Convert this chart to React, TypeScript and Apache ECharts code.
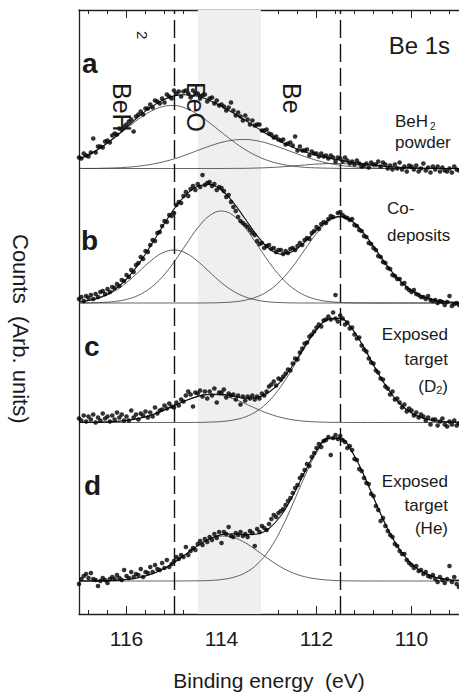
import React, { useEffect, useRef } from "react";
import * as echarts from "echarts";

// Binding-energy grid of the fitted curves (eV)
const fitEnergy = [117, 116.75, 116.5, 116.25, 116, 115.75, 115.5, 115.25, 115, 114.75, 114.5, 114.25, 114, 113.75, 113.5, 113.25, 113, 112.75, 112.5, 112.25, 112, 111.75, 111.5, 111.25, 111, 110.75, 110.5, 110.25, 110, 109.75, 109.5, 109.25, 109];

// Fit components (arb. units above each panel's baseline)
const aBeH2 = [9.3, 14.8, 21.9, 30.6, 40.0, 49.3, 56.9, 61.7, 63.0, 60.2, 54.1, 45.7, 36.2, 27.0, 18.9, 12.4, 7.6, 4.4, 2.4, 1.2, 0.6, 0.3, 0.1, 0, 0, 0, 0, 0, 0, 0, 0, 0, 0];
const aBeO = [0.1, 0.1, 0.3, 0.6, 1.2, 2.3, 4.0, 6.4, 9.6, 13.6, 18.1, 22.4, 26.1, 28.4, 29.0, 27.7, 24.7, 20.7, 16.3, 12.0, 8.2, 5.3, 3.2, 1.8, 1.0, 0.5, 0.2, 0.1, 0, 0, 0, 0, 0];
const aBe = [0, 0, 0, 0, 0, 0, 0, 0, 0, 0, 0, 0, 0, 0.1, 0.2, 0.5, 0.9, 1.6, 2.5, 3.5, 4.4, 4.9, 5.0, 4.5, 3.7, 2.7, 1.8, 1.1, 0.6, 0.3, 0.1, 0, 0];

const bBeH2 = [1.1, 2.8, 6.1, 11.8, 20.3, 30.9, 41.7, 49.9, 53.0, 49.9, 41.7, 30.9, 20.3, 11.8, 6.1, 2.8, 1.1, 0.4, 0.1, 0, 0, 0, 0, 0, 0, 0, 0, 0, 0, 0, 0, 0, 0];
const bBeO = [0.1, 0.2, 0.6, 1.5, 3.6, 7.7, 14.9, 25.9, 40.9, 58.3, 75.1, 87.5, 92.0, 87.5, 75.1, 58.3, 40.9, 25.9, 14.9, 7.7, 3.6, 1.5, 0.6, 0.2, 0.1, 0, 0, 0, 0, 0, 0, 0, 0];
const bBe = [0, 0, 0, 0, 0, 0, 0, 0, 0, 0, 0, 0.1, 0.4, 1.1, 2.8, 6.3, 12.5, 22.6, 36.5, 53.1, 69.4, 81.5, 86.0, 81.5, 69.4, 53.1, 36.5, 22.6, 12.5, 6.3, 2.8, 1.1, 0.4];

const cBeO = [0, 0.1, 0.4, 0.9, 2.0, 4.0, 7.1, 11.5, 16.7, 21.9, 26.0, 27.9, 27.1, 23.8, 18.8, 13.5, 8.7, 5.1, 2.7, 1.3, 0.6, 0.2, 0.1, 0, 0, 0, 0, 0, 0, 0, 0, 0, 0];
const cBe = [0, 0, 0, 0, 0, 0, 0, 0, 0, 0, 0.1, 0.4, 1.0, 2.5, 5.6, 11.6, 21.5, 36.0, 54.5, 74.6, 92.2, 103.1, 104.0, 93.6, 74.9, 53.3, 33.8, 19.0, 9.5, 4.2, 1.7, 0.6, 0.2];

const dBeO = [0, 0.1, 0.2, 0.6, 1.5, 3.3, 6.4, 11.4, 18.4, 26.8, 35.2, 41.8, 44.9, 43.6, 38.2, 30.3, 21.7, 14.0, 8.2, 4.3, 2.1, 0.9, 0.3, 0.1, 0, 0, 0, 0, 0, 0, 0, 0, 0];
const dBe = [0, 0, 0, 0, 0, 0, 0, 0, 0, 0.1, 0.2, 0.5, 1.5, 3.6, 8.2, 16.7, 30.8, 51.2, 76.9, 104.4, 128.1, 142.0, 142.3, 128.9, 105.5, 78.0, 52.1, 31.5, 17.2, 8.5, 3.8, 1.5, 0.6];

// Measured points: energy scan from 117 eV down in 0.05 eV steps
const dotStart = 117;
const dotStep = 0.05;
const aDots = [11, 10, 15, 13, 12, 16, 30, 16, 22, 22, 21, 27, 28, 26, 33, 35, 34, 40, 39, 42, 44, 47, 49, 37, 52, 54, 57, 54, 60, 60, 64, 61, 68, 67, 65, 70, 66, 74, 72, 70, 78, 75, 77, 72, 77, 78, 75, 71, 78, 75, 75, 70, 73, 74, 67, 70, 71, 65, 68, 63, 64, 62, 58, 61, 66, 58, 53, 56, 52, 48, 53, 49, 44, 48, 43, 44, 44, 38, 38, 39, 35, 34, 31, 32, 29, 28, 29, 24, 25, 26, 23, 32, 18, 22, 18, 18, 19, 13, 17, 15, 15, 12, 15, 12, 13, 10, 13, 11, 7, 11, 10, 7, 11, 8, 5, 7, 4, 8, 5, 2, 3, 5, 1, 6, 4, 4, 7, 2, 6, 4, 0, 3, -1, 4, 0, 6, -1, 2, -3, 3, 2, -1, 3, -3, 0, 5, -2, 1, -4, 2, -1, 2, -3, 1, -2, -3, 0, -4, 2, -1, -2];
const bDots = [4, 6, 2, 7, 5, 8, 4, 9, 6, 11, 12, 9, 14, 11, 16, 15, 19, 17, 23, 22, 28, 26, 33, 31, 38, 40, 46, 44, 52, 51, 58, 63, 62, 70, 71, 77, 82, 81, 88, 87, 90, 98, 101, 100, 107, 111, 107, 114, 117, 113, 119, 116, 128, 118, 120, 121, 117, 119, 113, 116, 115, 112, 106, 108, 101, 96, 92, 86, 82, 80, 78, 76, 73, 70, 68, 62, 59, 60, 55, 57, 58, 54, 55, 51, 53, 53, 49, 52, 50, 54, 55, 53, 57, 60, 58, 63, 65, 64, 70, 72, 76, 74, 79, 81, 80, 84, 87, 86, 8, 90, 91, 88, 86, 85, 83, 84, 78, 77, 73, 72, 67, 66, 60, 59, 55, 53, 47, 46, 41, 40, 35, 34, 28, 27, 24, 24, 19, 20, 15, 13, 11, 13, 9, 8, 6, 6, 4, 7, 3, 2, 3, 0, 2, 1, -2, 1, 7, -3, -1, 0, -2];
const cDots = [4, 2, 7, 1, 6, 3, 8, 0, 5, 2, 9, 4, 6, 1, 7, 3, 10, 5, 8, 2, 6, 2, 12, 5, 8, 3, 9, 7, 11, 5, 10, 6, 15, 9, 12, 13, 17, 14, 19, 16, 15, 20, 17, 23, 21, 27, 31, 28, 16, 30, 29, 32, 26, 31, 24, 31, 27, 34, 20, 30, 30, 33, 25, 29, 27, 28, 23, 27, 18, 26, 22, 26, 24, 27, 23, 26, 24, 29, 27, 31, 36, 38, 41, 37, 44, 43, 46, 49, 53, 52, 59, 64, 63, 70, 74, 79, 80, 86, 88, 91, 95, 98, 96, 102, 103, 106, 103, 110, 104, 101, 107, 104, 98, 100, 94, 95, 88, 84, 85, 77, 73, 71, 64, 60, 59, 52, 50, 44, 43, 36, 34, 28, 31, 23, 24, 20, 15, 18, 11, 14, 12, 7, 10, 5, 8, 6, 2, 5, -2, 3, 3, -3, 1, 4, -2, -4, 1, -2, 2, -3, -1];
const dDots = [-3, 2, 5, 7, 3, 8, 2, 1, -5, 0, 3, 1, -2, 2, 4, 2, 6, 3, 1, 11, 5, 3, 9, 4, 7, 6, 12, 4, 9, 8, 14, 9, 16, 12, 11, 18, 13, 21, 14, 17, 20, 24, 22, 26, 24, 34, 26, 30, 33, 31, 37, 40, 36, 42, 39, 44, 41, 47, 43, 49, 38, 49, 47, 54, 45, 44, 48, 46, 49, 45, 47, 44, 50, 48, 35, 52, 49, 55, 53, 51, 57, 62, 66, 64, 68, 70, 72, 76, 80, 83, 88, 93, 96, 103, 106, 111, 117, 115, 124, 128, 133, 137, 134, 140, 141, 144, 126, 143, 146, 142, 145, 141, 139, 133, 135, 131, 122, 121, 112, 110, 103, 98, 97, 87, 85, 75, 71, 60, 63, 55, 50, 46, 44, 37, 35, 30, 27, 27, 21, 18, 16, 13, 15, 10, 11, 7, 9, 5, 4, 6, 2, -1, 4, 1, -2, 2, 15, -1, 4, -3, -6];

// Vertical offsets of the stacked spectra (a top ... d bottom)
const panelOffsets = [445.5, 311, 191.5, 33];
const panelLetters = ["a", "b", "c", "d"];

// Axis ticks
const majorTicks = [110, 112, 114, 116];
const minorTicks = [109.2, 109.6, 110, 110.4, 110.8, 111.2, 111.6, 112, 112.4, 112.8, 113.2, 113.6, 114, 114.4, 114.8, 115.2, 115.6, 116, 116.4, 116.8];

// Reference energies and shaded region
const dashedLines = [115.0, 111.5];
const bandRange = [114.5, 113.17];

const FONT = "'Liberation Sans', Arial, Helvetica, sans-serif";
const INK = "#1a1a1a";

function panelSeries(dots: number[], comps: number[][], offset: number, first: boolean) {
  const out: any[] = [];
  comps.forEach((c) => {
    out.push({
      type: "line",
      data: fitEnergy.map((e, i) => [e, offset + c[i]]),
      smooth: 0.4,
      symbol: "none",
      silent: true,
      lineStyle: { width: 0.8, color: "#3a3a3a" },
      z: 2,
    });
  });
  const total = fitEnergy.map((e, i) => [e, offset + comps.reduce((s, c) => s + c[i], 0)]);
  const totalSeries: any = {
    type: "line",
    data: total,
    smooth: 0.4,
    symbol: "none",
    silent: true,
    lineStyle: { width: 1.1, color: "#111" },
    z: 3,
  };
  if (first) {
    totalSeries.markArea = {
      silent: true,
      itemStyle: { color: "#efefef" },
      data: [[{ xAxis: bandRange[0] }, { xAxis: bandRange[1] }]],
    };
    totalSeries.markLine = {
      silent: true,
      symbol: ["none", "none"],
      label: { show: false },
      lineStyle: { type: [18, 6], color: "#111", width: 1.4 },
      data: dashedLines.map((x) => ({ xAxis: x })),
    };
  }
  out.push(totalSeries);
  out.push({
    type: "scatter",
    data: dots.map((v, i) => [dotStart - dotStep * i, offset + v]),
    symbolSize: 4.6,
    silent: true,
    itemStyle: { color: "#000" },
    z: 4,
  });
  return out;
}

function txt(text: string, x: number, y: number, size: number, opts: any = {}) {
  const align = opts.align || "left";
  return {
    type: "text",
    x,
    y,
    rotation: opts.rot || 0,
    silent: true,
    z: 10,
    style: {
      text,
      fontSize: size,
      fontFamily: FONT,
      fontWeight: opts.bold ? "bold" : "normal",
      fill: INK,
      textAlign: align,
      align,
      textVerticalAlign: "middle",
      verticalAlign: "middle",
    },
  };
}

export default function App() {
  const ref = useRef<HTMLDivElement>(null);
  useEffect(() => {
    if (!ref.current) return;
    const chart = echarts.init(ref.current, null, { renderer: "svg" });
    const axisLineStyle = { color: "#222", width: 1.3 };
    const tickStyle = { color: "#222", width: 1 };
    const baseX = {
      type: "value",
      min: 109,
      max: 117,
      inverse: true,
      splitLine: { show: false },
    };
    const series = [
      ...panelSeries(aDots, [aBeH2, aBeO, aBe], panelOffsets[0], true),
      ...panelSeries(bDots, [bBeH2, bBeO, bBe], panelOffsets[1], false),
      ...panelSeries(cDots, [cBeO, cBe], panelOffsets[2], false),
      ...panelSeries(dDots, [dBeO, dBe], panelOffsets[3], false),
    ];
    const letterPos = [
      [82, 63],
      [81, 240],
      [84, 346],
      [84, 485],
    ];
    const rot = -Math.PI / 2;
    const graphic = [
      ...panelLetters.map((l, i) => txt(l, letterPos[i][0], letterPos[i][1], 28, { bold: true })),
      txt("Be 1s", 450, 45, 24, { align: "right" }),
      txt("BeH", 122, 83, 25, { rot }),
      txt("2", 142, 31, 15, { rot }),
      txt("BeO", 196, 82, 25, { rot }),
      txt("Be", 292, 83, 25, { rot }),
      txt("BeH", 395, 121, 17),
      txt("2", 430, 126.5, 10),
      txt("powder", 395, 142.5, 17),
      txt("Co-", 387, 208, 17),
      txt("deposits", 387, 235, 17),
      txt("Exposed", 448, 334, 17, { align: "right" }),
      txt("target", 448, 359, 17, { align: "right" }),
      txt(")", 448, 386, 17, { align: "right" }),
      txt("2", 442.3, 390, 11, { align: "right" }),
      txt("(D", 436.2, 386, 17, { align: "right" }),
      txt("Exposed", 448, 481, 17, { align: "right" }),
      txt("target", 448, 505, 17, { align: "right" }),
      txt("(He)", 448, 528, 17, { align: "right" }),
      txt("Counts  (Arb. units)", 20, 234, 22, { rot }),
    ];
    chart.setOption({
      animation: false,
      textStyle: { fontFamily: FONT },
      grid: { left: 79, top: 10, width: 381.6, height: 604 },
      xAxis: [
        {
          ...baseX,
          position: "bottom",
          axisLine: { show: true, onZero: false, lineStyle: axisLineStyle },
          axisTick: { show: true, inside: true, length: 4, customValues: minorTicks, lineStyle: tickStyle },
          axisLabel: { show: true, customValues: majorTicks, fontSize: 21, color: INK, margin: 14, fontFamily: FONT },
          name: "Binding energy  (eV)",
          nameLocation: "middle",
          nameGap: 56,
          nameTextStyle: { fontSize: 21, color: INK, fontFamily: FONT },
        },
        {
          ...baseX,
          position: "bottom",
          axisLine: { show: false },
          axisTick: { show: true, inside: true, length: 8, customValues: majorTicks, lineStyle: tickStyle },
          axisLabel: { show: false },
        },
        {
          ...baseX,
          position: "top",
          axisLine: { show: true, onZero: false, lineStyle: axisLineStyle },
          axisTick: { show: true, inside: true, length: 4, customValues: minorTicks, lineStyle: tickStyle },
          axisLabel: { show: false },
        },
        {
          ...baseX,
          position: "top",
          axisLine: { show: false },
          axisTick: { show: true, inside: true, length: 8, customValues: majorTicks, lineStyle: tickStyle },
          axisLabel: { show: false },
        },
      ],
      yAxis: {
        type: "value",
        min: 0,
        max: 604,
        axisLine: { show: true, onZero: false, lineStyle: axisLineStyle },
        axisTick: { show: false },
        axisLabel: { show: false },
        splitLine: { show: false },
      },
      series,
      graphic,
    });
    return () => chart.dispose();
  }, []);
  return <div ref={ref} style={{ position: "absolute", left: 0, top: 0, width: 459, height: 697 }} />;
}
